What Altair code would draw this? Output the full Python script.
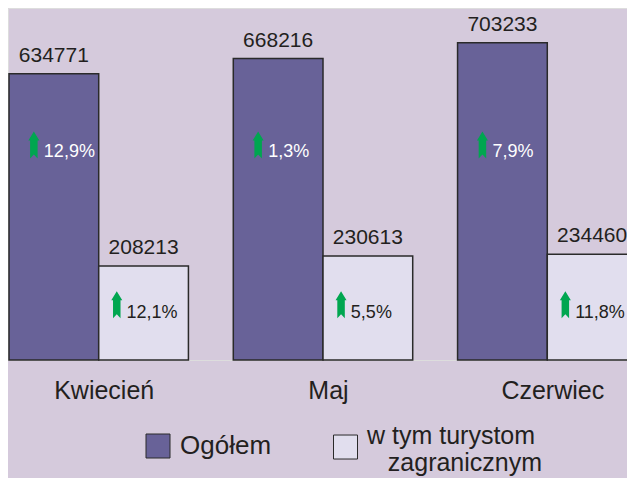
import altair as alt
import pandas as pd

# ---- data ----
months = ["Kwiecień", "Maj", "Czerwiec"]
series_names = ["Ogółem", "w tym turystom zagranicznym"]
total_values = [634771, 668216, 703233]
foreign_values = [208213, 230613, 234460]
total_change = ["12,9%", "1,3%", "7,9%"]
foreign_change = ["12,1%", "5,5%", "11,8%"]

rows = []
for i, m in enumerate(months):
    rows.append({"month": m, "series": series_names[0], "value": total_values[i], "change": total_change[i]})
    rows.append({"month": m, "series": series_names[1], "value": foreign_values[i], "change": foreign_change[i]})
df = pd.DataFrame(rows)

# ---- styles ----
BG = "#D5CADC"
DARK = "#686298"
LIGHT = "#E1DEEE"
STROKE = "#2A2A2A"
GREEN = "#00A650"
TXT = "#231F20"
FONT = "Liberation Sans"


def arrow_path(dx):
    pts = [(0, -1.35), (0.55, -0.45), (0.375, -0.45), (0.375, 1.35), (0, 0.95),
           (-0.375, 1.35), (-0.375, -0.45), (-0.55, -0.45)]
    return "M" + " L".join(f"{x + dx:.3f},{y:.3f}" for x, y in pts) + " Z"


# square symbol (24 px at size 576) lowered to sit between the two label lines
LOW_SQUARE = "M-1,-0.04 L1,-0.04 L1,1.96 L-1,1.96 Z"
INDENT = "\u200b\u00a0\u00a0\u00a0"

x_enc = alt.X("month:N", sort=months,
              scale=alt.Scale(range=[1, 629], paddingInner=0.2, paddingOuter=0),
              axis=alt.Axis(title=None, domain=False, ticks=False, tickSize=0,
                            labelAngle=0, labelFontSize=25, labelColor=TXT,
                            labelPadding=38, labelBaseline="alphabetic",
                            labelOffset=5.5, labelFont=FONT))
xo_enc = alt.XOffset("series:N", sort=series_names, scale=alt.Scale(paddingInner=0))
y_enc = alt.Y("value:Q", scale=alt.Scale(domain=[0, 780400], nice=False, zero=True), axis=None)

legend_total = alt.Legend(
    orient="none", legendX=137, legendY=425, title=None, values=[series_names[0]],
    symbolType="square", symbolSize=576, symbolStrokeColor=STROKE, symbolStrokeWidth=1,
    labelFontSize=26, labelColor=TXT, labelFont=FONT, labelOffset=9, labelLimit=0, padding=0,
)
legend_foreign = alt.Legend(
    orient="none", legendX=325, legendY=415, title=None, values=[series_names[1]],
    symbolType=LOW_SQUARE, symbolSize=576, symbolFillColor=LIGHT, symbolStrokeColor=STROKE,
    symbolStrokeWidth=1,
    labelFontSize=25, labelColor=TXT, labelFont=FONT, labelOffset=9, labelLimit=0, padding=0,
    labelExpr=f"['w tym turystom', '{INDENT}zagranicznym']",
)

base = alt.Chart(df).transform_calculate(series_b="datum.series")

bars = base.mark_bar(strokeWidth=1.5).encode(
    x=x_enc, xOffset=xo_enc, y=y_enc,
    color=alt.Color("series:N", sort=series_names,
                    scale=alt.Scale(domain=series_names, range=[DARK, LIGHT]),
                    legend=legend_total),
    stroke=alt.Stroke("series_b:N",
                      scale=alt.Scale(domain=[series_names[1], series_names[0]],
                                      range=[STROKE, STROKE]),
                      legend=legend_foreign),
)

values = base.mark_text(baseline="alphabetic", dy=-12, fontSize=21, color=TXT, font=FONT).encode(
    x=x_enc, xOffset=xo_enc, y=y_enc, text=alt.Text("value:Q", format="d"),
)

dark = base.transform_filter(alt.datum.series == series_names[0])
light = base.transform_filter(alt.datum.series == series_names[1])

arrow_dark = dark.mark_point(shape=arrow_path(-2.0), size=400, filled=True, fill=GREEN,
                             strokeWidth=0, opacity=1).encode(
    x=x_enc, xOffset=xo_enc, y=alt.value(137))
arrow_light = light.mark_point(shape=arrow_path(-2.68), size=400, filled=True, fill=GREEN,
                               strokeWidth=0, opacity=1).encode(
    x=x_enc, xOffset=xo_enc, y=alt.value(296.7))

pct_dark = dark.mark_text(align="left", baseline="alphabetic", dx=-10, fontSize=18,
                          color="white", font=FONT).encode(
    x=x_enc, xOffset=xo_enc, y=alt.value(149.3), text="change:N")
pct_light = light.mark_text(align="left", baseline="alphabetic", dx=-17, fontSize=18,
                            color=TXT, font=FONT).encode(
    x=x_enc, xOffset=xo_enc, y=alt.value(309.8), text="change:N")

chart = alt.layer(bars, values, arrow_dark, arrow_light, pct_dark, pct_light).properties(
    width=619, height=352,
    autosize="none",
    padding={"left": 0, "top": 0, "right": 0, "bottom": 118},
    background=BG,
).configure_view(strokeWidth=0).configure(font=FONT)

chart.save("out.html", embed_options={"renderer": "svg", "actions": False})
